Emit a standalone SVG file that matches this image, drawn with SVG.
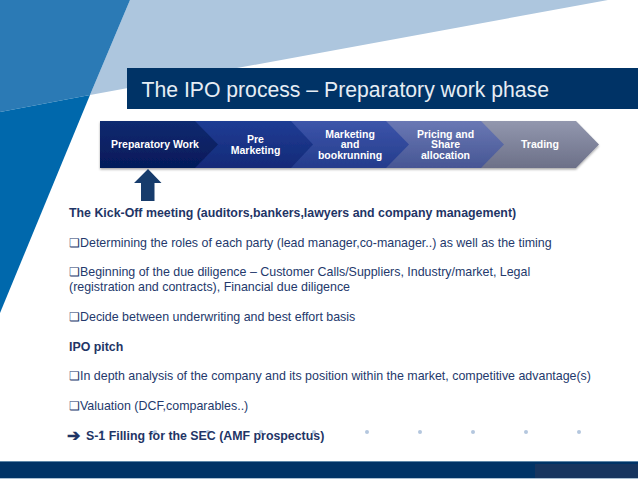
<svg xmlns="http://www.w3.org/2000/svg" width="638" height="479" viewBox="0 0 638 479">
<style>
.t{font-family:"Liberation Sans",Arial,sans-serif;font-size:12.43px;fill:#24396c}
.b{font-weight:700;font-size:12.37px;fill:#1f3566}
.c{font-family:"Liberation Sans",Arial,sans-serif;font-size:10.5px;font-weight:700;fill:#fff;text-anchor:middle}
.d{fill:#b4c7de}
</style>
<defs>
<linearGradient id="g1" x1="0" y1="0" x2="0" y2="1"><stop offset="0" stop-color="#0e2a70"/><stop offset="1" stop-color="#051a5a"/></linearGradient>
<linearGradient id="g2" x1="0" y1="0" x2="0" y2="1"><stop offset="0" stop-color="#1f3c94"/><stop offset="1" stop-color="#142a78"/></linearGradient>
<linearGradient id="g3" x1="0" y1="0" x2="0" y2="1"><stop offset="0" stop-color="#3c55aa"/><stop offset="1" stop-color="#253c8c"/></linearGradient>
<linearGradient id="g4" x1="0" y1="0" x2="0" y2="1"><stop offset="0" stop-color="#6a78b4"/><stop offset="1" stop-color="#465694"/></linearGradient>
<linearGradient id="g5" x1="0" y1="0" x2="0" y2="1"><stop offset="0" stop-color="#9297ae"/><stop offset="1" stop-color="#6c7088"/></linearGradient>
<filter id="s" x="-5%" y="-10%" width="110%" height="125%"><feDropShadow dx="0" dy="1.5" stdDeviation="1" flood-color="#000" flood-opacity=".35"/></filter>
</defs>
<rect width="638" height="479" fill="#fff"/>
<g id="background">
<polygon points="130,0 608,0 90,95" fill="#adc6de"/>
<polygon points="0,0 130,0 90,95 0,112" fill="#2b7ab5"/>
<polygon points="0,112 90,95 0,313" fill="#0068ac"/>
</g>
<g id="title">
<rect x="127" y="68" width="511" height="41" fill="#003366"/>
<text x="141.500" y="97" font-family="'Liberation Sans',Arial,sans-serif" font-size="21.2" fill="#e6edf4">The IPO process – Preparatory work phase</text>
</g>
<g id="process" filter="url(#s)">
<g id="step5"><polygon points="480,121 576,121 599,144.5 576,168 480,168" fill="url(#g5)"/></g>
<g id="step4"><polygon points="386,121 481,121 504,144.5 481,168 386,168" fill="url(#g4)"/></g>
<g id="step3"><polygon points="291,121 386,121 409,144.5 386,168 291,168" fill="url(#g3)"/></g>
<g id="step2"><polygon points="195,121 291,121 313,144.5 291,168 195,168" fill="url(#g2)"/></g>
<g id="step1"><polygon points="100,121 195,121 218,144.5 195,168 100,168" fill="url(#g1)"/></g>
</g>
<g id="labels">
<text class="c" x="155" y="148">Preparatory Work</text>
<text class="c" x="255.5" y="143">Pre</text><text class="c" x="255.5" y="154">Marketing</text>
<text class="c" x="350" y="137.5">Marketing</text><text class="c" x="350" y="148">and</text><text class="c" x="350" y="159">bookrunning</text>
<text class="c" x="445.5" y="137.5">Pricing and</text><text class="c" x="445.5" y="148">Share</text><text class="c" x="445.5" y="159">allocation</text>
<text class="c" x="540" y="148">Trading</text>
</g>
<g id="up-arrow"><polygon points="148,169 161.500,183 154.500,183 154.500,201 141,201 141,183 134,183" fill="#173c6c"/></g>
<g id="dots">
<circle class="d" cx="367" cy="432" r="2"/><circle class="d" cx="420" cy="432" r="2"/><circle class="d" cx="473" cy="432" r="2"/><circle class="d" cx="526" cy="432" r="2"/><circle class="d" cx="579" cy="432" r="2"/>
<circle class="d" cx="102" cy="432" r="2"/><circle class="d" cx="155" cy="432" r="2"/><circle class="d" cx="208" cy="432" r="2"/><circle class="d" cx="261" cy="432" r="2"/><circle class="d" cx="314" cy="432" r="2"/>
</g>
<g id="text">
<text class="t b" x="69" y="217">The Kick-Off meeting (auditors,bankers,lawyers and company management)</text>
<text class="t" x="69" y="247">❑Determining the roles of each party (lead manager,co-manager..) as well as the timing</text>
<text class="t" x="69" y="276">❑Beginning of the due diligence – Customer Calls/Suppliers, Industry/market, Legal</text>
<text class="t" x="69" y="291">(registration and contracts), Financial due diligence</text>
<text class="t" x="69" y="321">❑Decide between underwriting and best effort basis</text>
<text class="t b" x="69" y="351">IPO pitch</text>
<text class="t" x="69" y="380">❑In depth analysis of the company and its position within the market, competitive advantage(s)</text>
<text class="t" x="69" y="410">❑Valuation (DCF,comparables..)</text>
<text class="t b" x="67" y="441" style="font-size:16px">➔<tspan x="86" y="440" style="font-size:12.37px">S-1 Filling for the SEC (AMF prospectus)</tspan></text>
</g>
<g id="footer">
<rect x="0" y="461" width="638" height="17" fill="#003366"/>
<rect x="0" y="461" width="638" height="1" fill="#5d86a8"/>
<rect x="0" y="478" width="638" height="1" fill="#a9bfd2"/>
<rect x="535" y="464" width="103" height="14" fill="#17355f"/>
</g>
</svg>
